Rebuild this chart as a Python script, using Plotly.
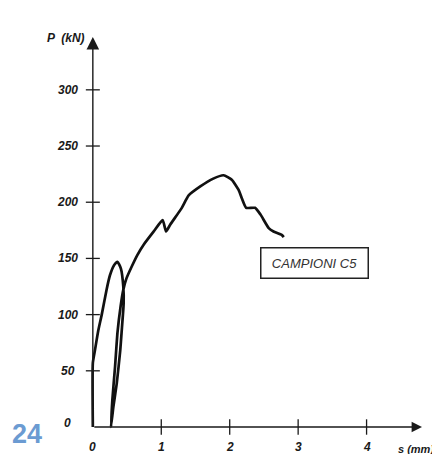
import plotly.graph_objects as go

# displacement s (mm) and load P (kN)
s_vals = [0, 0, 0.03, 0.08, 0.13, 0.20, 0.25, 0.31, 0.36, 0.41, 0.445, 0.45, 0.42, 0.40, 0.35, 0.30, 0.265,
          0.285, 0.325, 0.36, 0.405, 0.445, 0.49, 0.57, 0.65, 0.74, 0.89, 1.02, 1.07, 1.13, 1.30, 1.40,
          1.57, 1.76, 1.91, 2.03, 2.13, 2.18, 2.24, 2.37, 2.45, 2.57, 2.64, 2.76, 2.79]
p_vals = [0, 57, 68, 86, 100, 122, 135, 144, 147, 141, 125, 110, 84, 68, 39, 18, 0,
          24, 54, 84, 107, 122, 132, 143, 153, 162, 174, 184, 174, 180, 195, 206,
          214, 221, 224, 220, 211, 203, 195, 195, 189, 177, 174, 171, 169]

x_ticks = [1, 2, 3, 4]
x_tick_labels = ["1", "2", "3", "4"]
y_ticks = [50, 100, 150, 200, 250, 300]
y_tick_labels = ["50", "100", "150", "200", "250", "300"]

label_font = dict(family="Liberation Sans, Arial, sans-serif", size=12, color="#1a1a1a",
                  style="italic", weight="bold")

# the page body has an 8px margin; size the figure so the window shows it as the reference
W, H = 432, 446
L, R, T, B = 77.65, 18, 29, 18

fig = go.Figure()

fig.add_trace(go.Scatter(x=s_vals, y=p_vals, mode="lines",
                         line=dict(color="#111111", width=2.7, shape="spline", smoothing=0.5),
                         hoverinfo="skip", showlegend=False))

# tick marks crossing the axes
fig.add_trace(go.Scatter(x=x_ticks, y=[0] * len(x_ticks), mode="markers",
                         marker=dict(symbol="line-ns", size=11, line=dict(color="#1a1a1a", width=1.3)),
                         cliponaxis=False, hoverinfo="skip", showlegend=False))
fig.add_trace(go.Scatter(x=[0] * len(y_ticks), y=y_ticks, mode="markers",
                         marker=dict(symbol="line-ew", size=10, line=dict(color="#1a1a1a", width=1.3)),
                         cliponaxis=False, hoverinfo="skip", showlegend=False))

annotations = []
# axis arrows
annotations.append(dict(x=4.81, y=0, ax=0, ay=0, xref="x", yref="y", axref="x", ayref="y",
                        text="", showarrow=True, arrowhead=2, arrowsize=1.6, arrowwidth=1.3,
                        arrowcolor="#1a1a1a"))
annotations.append(dict(x=0, y=347, ax=0, ay=0, xref="x", yref="y", axref="x", ayref="y",
                        text="", showarrow=True, arrowhead=2, arrowsize=1.8, arrowwidth=1.4,
                        arrowcolor="#1a1a1a"))
# tick labels
for v, t in zip(y_ticks, y_tick_labels):
    annotations.append(dict(x=0, y=v, xref="x", yref="y", text=t, showarrow=False,
                            xanchor="center", xshift=-25, font=label_font))
annotations.append(dict(x=0, y=0, xref="x", yref="y", text="0", showarrow=False,
                        xanchor="center", xshift=-25, yshift=4, font=label_font))
annotations.append(dict(x=0, y=0, xref="x", yref="y", text="0", showarrow=False,
                        xanchor="center", yshift=-20, font=label_font))
for v, t in zip(x_ticks, x_tick_labels):
    annotations.append(dict(x=v, y=0, xref="x", yref="y", text=t, showarrow=False,
                            xanchor="center", yshift=-20, font=label_font))
# axis titles
annotations.append(dict(x=0, y=347, xref="x", yref="y", text="P  (kN)", showarrow=False,
                        xanchor="right", xshift=-6, yshift=-1, font=label_font))
annotations.append(dict(x=1.0, y=0, xref="paper", yref="y", text="s (mm)", showarrow=False,
                        xanchor="right", xshift=14, yshift=-22,
                        font=dict(family="Liberation Sans, Arial, sans-serif", size=11,
                                  color="#1a1a1a", style="italic", weight="bold")))
# legend box
annotations.append(dict(x=3.245, y=145.5, xref="x", yref="y", text="CAMPIONI C5", showarrow=False,
                        xanchor="center", yanchor="middle", width=104, height=27,
                        bordercolor="#222222", borderwidth=1.5, borderpad=1, bgcolor="white",
                        font=dict(family="Liberation Sans, Arial, sans-serif", size=13,
                                  color="#333333", style="italic")))
# page number (pixel position in the window converted to paper coords)
pw = W - L - R
ph = H - T - B
px, py = 26.5 - 8, 434 - 8
annotations.append(dict(x=(px - L) / pw, y=(H - B - py) / ph, xref="paper", yref="paper",
                        text="24", showarrow=False, xanchor="center", yanchor="middle",
                        font=dict(family="Liberation Sans, Arial, sans-serif", size=27,
                                  color="#6b9bd2", weight="bold")))

fig.update_layout(
    annotations=annotations,
    width=W, height=H,
    margin=dict(l=L, r=R, t=T, b=B, pad=0),
    paper_bgcolor="white", plot_bgcolor="white",
    xaxis=dict(range=[-0.1, 4.81], visible=False, fixedrange=True),
    yaxis=dict(range=[-8, 347], visible=False, fixedrange=True),
    showlegend=False,
)

fig.write_html("out.html")
